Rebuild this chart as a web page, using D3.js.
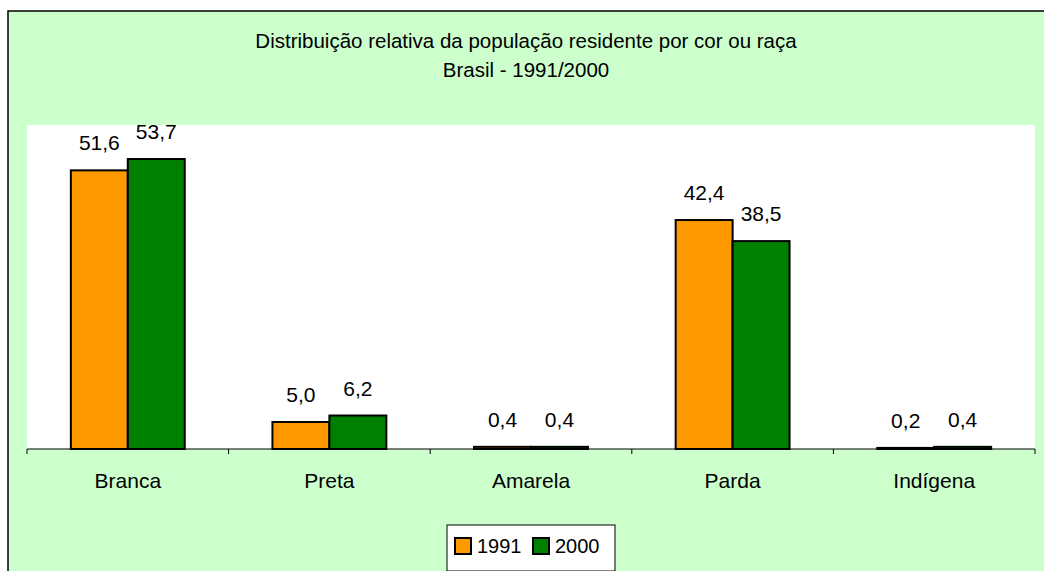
<!DOCTYPE html>
<html>
<head>
<meta charset="utf-8">
<script src="https://cdn.jsdelivr.net/npm/d3@7"></script>
<style>
  body { margin: 0; background: #fff; }
  text { font-family: "Liberation Sans", Arial, sans-serif; fill: #000; }
</style>
</head>
<body>
<script>
//Declare consts/global variables
    const width = 1044;
    const height = 571;
    const plot = {left: 27, right: 1035, top: 125, bottom: 449};

//Data
    const categories = ["Branca", "Preta", "Amarela", "Parda", "Indígena"];
    const years = ["1991", "2000"];
    const values1991 = [51.6, 5.0, 0.4, 42.4, 0.2];
    const values2000 = [53.7, 6.2, 0.4, 38.5, 0.4];
    const colors = ["#FF9900", "#008000"];
    const titleLines = ["Distribuição relativa da população residente por cor ou raça", "Brasil - 1991/2000"];

    const data = categories.map((c, i) => ({cat: c, vals: [values1991[i], values2000[i]]}));
    const fmt = v => v.toFixed(1).replace(".", ",");

//SVG
    const svg = d3.select("body").append("svg")
        .attr("width", width)
        .attr("height", height);

    // chart background + border
    svg.append("rect")
        .attr("x", 8).attr("y", 11)
        .attr("width", width).attr("height", height)
        .attr("fill", "#CCFFCC")
        .attr("stroke", "#000").attr("stroke-width", 1.5);

    // plot area
    svg.append("rect")
        .attr("x", plot.left).attr("y", plot.top)
        .attr("width", plot.right - plot.left)
        .attr("height", plot.bottom - plot.top)
        .attr("fill", "#fff");

    // title
    svg.selectAll(".title")
        .data(titleLines)
        .enter().append("text")
        .attr("x", 526)
        .attr("y", (d, i) => 48 + i * 29)
        .attr("text-anchor", "middle")
        .attr("font-size", 20.5)
        .text(d => d);

//Scales
    const xScale = d3.scaleBand()
        .domain(categories)
        .range([plot.left, plot.right]);

    const xInner = d3.scaleBand()
        .domain(years)
        .range([0, xScale.bandwidth()])
        .paddingOuter(0.77)
        .paddingInner(0);

    const yScale = d3.scaleLinear()
        .domain([0, 60])
        .range([plot.bottom, plot.top]);

//Bars
    const groups = svg.selectAll(".grp")
        .data(data)
        .enter().append("g")
        .attr("transform", d => "translate(" + xScale(d.cat) + ",0)");

    groups.selectAll("rect")
        .data(d => d.vals.map((v, j) => ({year: years[j], v: v, j: j})))
        .enter().append("rect")
        .attr("x", d => xInner(d.year))
        .attr("y", d => yScale(d.v))
        .attr("width", xInner.bandwidth())
        .attr("height", d => plot.bottom - yScale(d.v))
        .attr("fill", d => colors[d.j])
        .attr("stroke", "#000")
        .attr("stroke-width", 2);

    groups.selectAll(".lbl")
        .data(d => d.vals.map((v, j) => ({year: years[j], v: v, j: j})))
        .enter().append("text")
        .attr("x", d => xInner(d.year) + xInner.bandwidth() / 2)
        .attr("y", d => yScale(d.v) - 20)
        .attr("text-anchor", "middle")
        .attr("font-size", 21)
        .text(d => fmt(d.v));

//Axis
    const bottomAxis = d3.axisBottom(xScale)
        .tickSize(0)
        .tickPadding(24);

    const ax = svg.append("g")
        .attr("transform", "translate(0," + plot.bottom + ")")
        .call(bottomAxis);
    ax.select(".domain").remove();
    ax.selectAll("text").attr("font-size", 21).attr("font-family", "Liberation Sans, Arial, sans-serif").attr("fill", "#000");

    svg.append("line")
        .attr("x1", plot.left).attr("x2", plot.right)
        .attr("y1", plot.bottom).attr("y2", plot.bottom)
        .attr("stroke", "#000").attr("stroke-width", 1);

    const bounds = categories.map(c => xScale(c)).concat([plot.right]);
    svg.selectAll(".sep")
        .data(bounds)
        .enter().append("line")
        .attr("x1", d => d).attr("x2", d => d)
        .attr("y1", plot.bottom).attr("y2", plot.bottom + 5)
        .attr("stroke", "#000");

//Legend
    const legend = svg.append("g").attr("transform", "translate(447,525)");
    legend.append("rect")
        .attr("width", 168).attr("height", 46)
        .attr("fill", "#fff").attr("stroke", "#000");
    const items = legend.selectAll(".item")
        .data(years)
        .enter().append("g")
        .attr("transform", (d, i) => "translate(" + (8 + i * 78) + ",13)");
    items.append("rect")
        .attr("width", 16).attr("height", 16)
        .attr("fill", (d, i) => colors[i])
        .attr("stroke", "#000").attr("stroke-width", 2);
    items.append("text")
        .attr("x", 22).attr("y", 15)
        .attr("font-size", 20)
        .text(d => d);
</script>
</body>
</html>
